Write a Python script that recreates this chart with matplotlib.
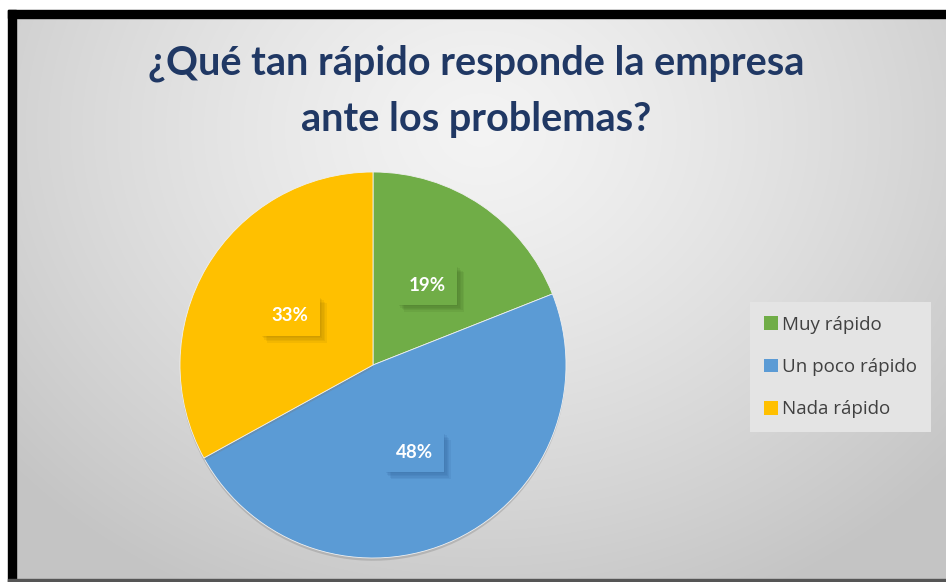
import matplotlib
matplotlib.use("Agg")
import matplotlib.pyplot as plt
import matplotlib.patheffects as pe
from matplotlib.patches import Rectangle, Patch
import numpy as np

# datos de la encuesta
categorias = ["Muy rápido", "Un poco rápido", "Nada rápido"]
porcentajes = [19, 48, 33]
colores = ["#70AD47", "#5B9BD5", "#FFC000"]
sombras = ["#3f6a24", "#2f6195", "#a07800"]
titulo = "¿Qué tan rápido responde la empresa\nante los problemas?"

W, H = 946, 582
fig = plt.figure(figsize=(W / 100, H / 100), dpi=100)
fig.patch.set_facecolor("white")

# fondo con degradado radial (gris claro arriba, más oscuro en los bordes)
bg = fig.add_axes([0, 0, 1, 1])
yy, xx = np.mgrid[0:H, 0:W]
d = np.sqrt(((xx - 480) / 620.0) ** 2 + ((yy - 130) / 520.0) ** 2)
d = np.clip(d, 0, 1)
g = 0.955 - 0.185 * d ** 1.3
img = np.dstack([g, g, g])
bg.imshow(img, extent=[0, W, H, 0], aspect="auto", interpolation="bilinear")
bg.set_xlim(0, W)
bg.set_ylim(H, 0)
bg.axis("off")

# marco negro y márgenes blancos
bg.add_patch(Rectangle((0, 0), W, 10, color="white", zorder=5))
bg.add_patch(Rectangle((0, 0), 8, H, color="white", zorder=5))
bg.add_patch(Rectangle((8, 10), W, 8, color="black", zorder=6))
bg.add_patch(Rectangle((8, 10), 8, H, color="black", zorder=6))
bg.add_patch(Rectangle((8, 579), W, 3, color="#555555", zorder=6))

# título
fig.text(476 / W, 1 - 91 / H, titulo, ha="center", va="center",
         fontsize=28.5, fontweight="bold", color="#203864",
         family=["Lato", "DejaVu Sans"], linespacing=1.65)

# pastel
cx, cy, r = 373, 365, 193
ax = fig.add_axes([(cx - r) / W, (H - cy - r) / H, 2 * r / W, 2 * r / H])
wedges, _ = ax.pie(porcentajes, colors=colores, startangle=90, counterclock=False,
                   wedgeprops=dict(edgecolor="#f0f0f0", linewidth=0.6))
for w in wedges:
    w.set_path_effects([pe.SimplePatchShadow(offset=(0, -2), shadow_rgbFace="#777777", alpha=0.3),
                        pe.Normal()])
ax.set_xlim(-1.0, 1.0)
ax.set_ylim(-1.0, 1.0)

# etiquetas de porcentaje con caja del mismo color y sombra suave
for w, p, c, s in zip(wedges, porcentajes, colores, sombras):
    ang = np.deg2rad((w.theta1 + w.theta2) / 2)
    x, y = 0.5 * np.cos(ang), 0.5 * np.sin(ang)
    t = ax.text(x, y, f"{p}%", ha="center", va="center", fontsize=13.5,
                fontweight="bold", color="white", family=["Lato", "DejaVu Sans"],
                bbox=dict(boxstyle="square,pad=0.6", facecolor=c, edgecolor="none"))
    efectos = [pe.SimplePatchShadow(offset=(k, -k), shadow_rgbFace=s, alpha=0.12)
               for k in (5, 4, 3, 2, 1)]
    t.get_bbox_patch().set_path_effects(efectos + [pe.Normal()])

# leyenda
handles = [Patch(facecolor=c, edgecolor="none") for c in colores]
leg = fig.legend(handles, categorias, loc="center left",
                 bbox_to_anchor=(750 / W, 1 - 367 / H), frameon=True,
                 fancybox=False, facecolor="#e4e4e4", edgecolor="none",
                 framealpha=1, labelspacing=1.3,
                 handlelength=0.75, handleheight=0.75, handletextpad=0.2,
                 borderpad=0.75, borderaxespad=0,
                 prop={"family": ["Open Sans", "DejaVu Sans"], "size": 13.5})
for txt in leg.get_texts():
    txt.set_color("#404040")

fig.savefig("out.png", dpi=100)
